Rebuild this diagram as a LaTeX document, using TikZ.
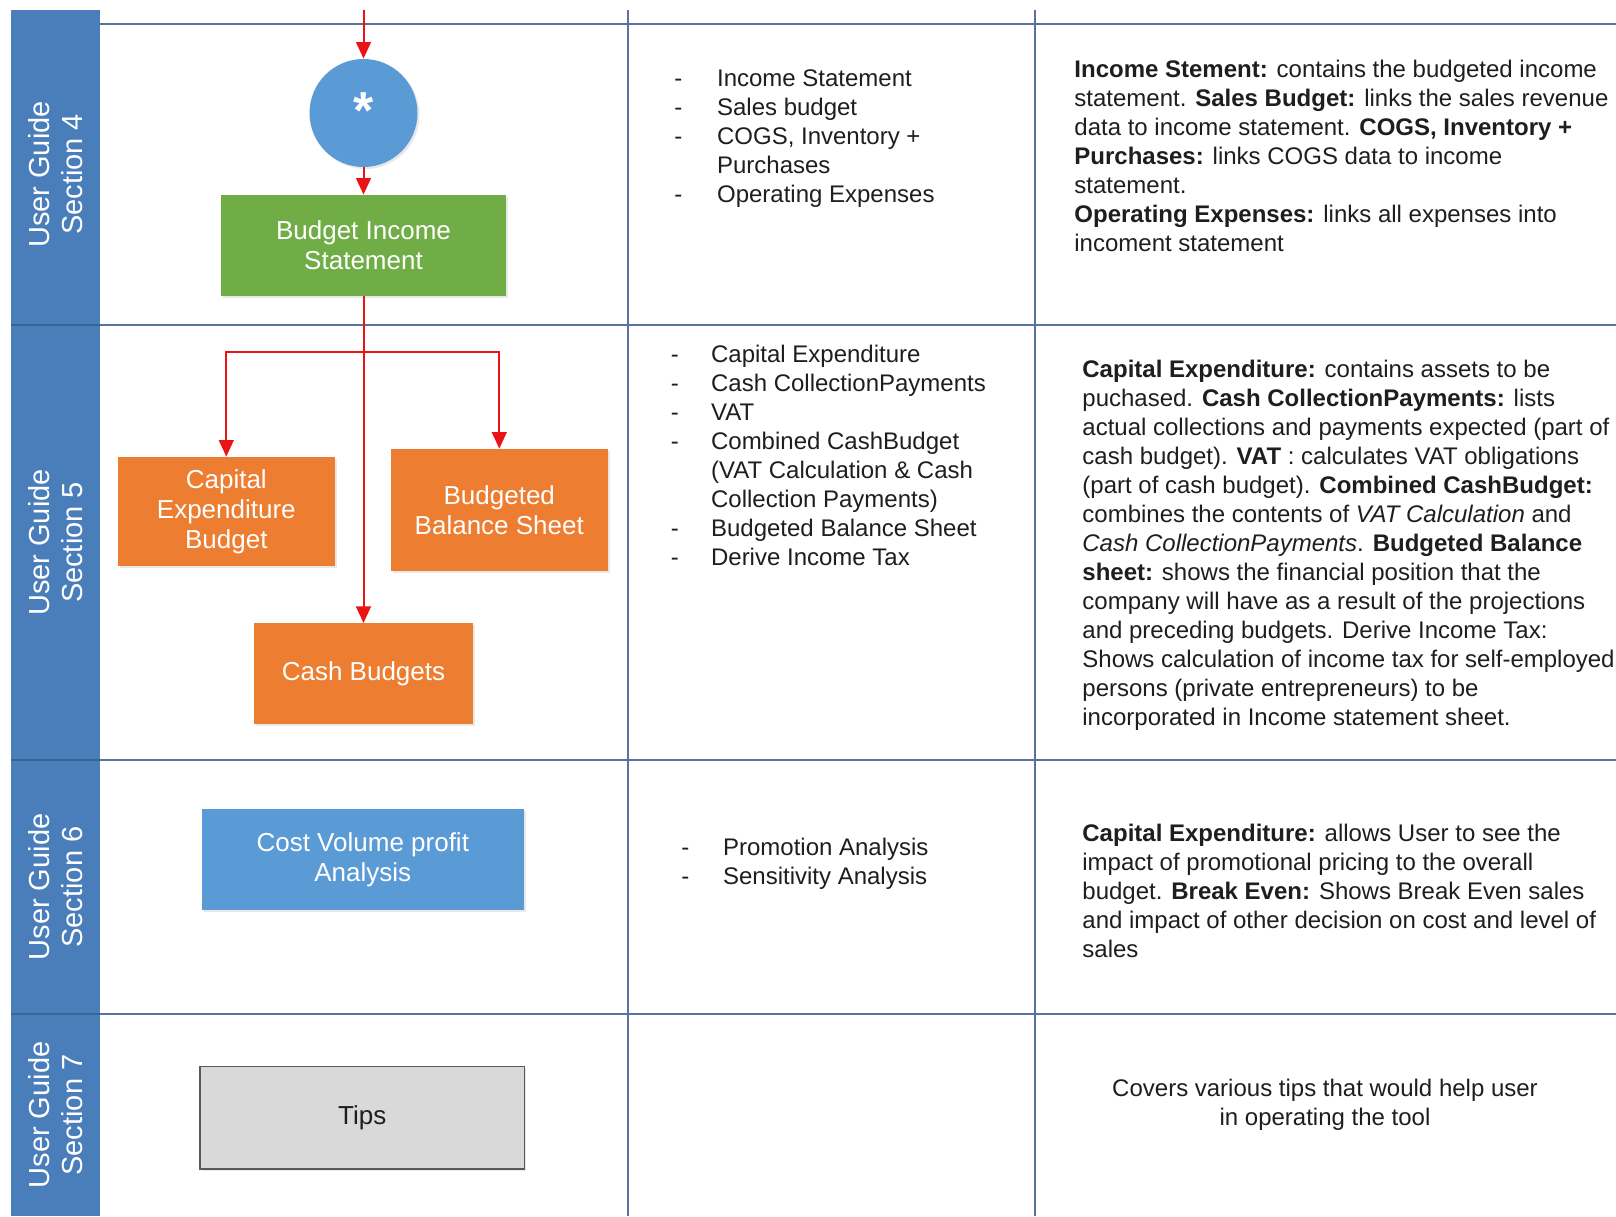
\documentclass[tikz,border=0pt]{standalone}
\usepackage{fontspec}
\setmainfont{Liberation Sans}
\usetikzlibrary{arrows.meta,shadows}
\definecolor{barc}{RGB}{74,126,187}
\definecolor{barline}{RGB}{58,100,150}
\definecolor{gridc}{RGB}{88,114,156}
\definecolor{circc}{RGB}{91,155,213}
\definecolor{greenc}{RGB}{112,173,71}
\definecolor{orangec}{RGB}{237,125,49}
\definecolor{grayc}{RGB}{217,217,217}
\definecolor{grayd}{RGB}{89,89,89}
\definecolor{txt}{RGB}{30,30,30}
\definecolor{arrc}{RGB}{235,20,20}
\newcommand{\dashit}[2]{\makebox[#1][l]{-}#2}
\begin{document}
\begin{tikzpicture}[x=0.5pt,y=-0.5pt,
  box/.style={rectangle, inner sep=0pt, align=center, text=white, font=\fontsize{13}{15}\selectfont,
    drop shadow={shadow xshift=1pt, shadow yshift=-1pt, opacity=0.18, fill=black!50}},
  arr/.style={draw=arrc, line width=1pt, -{Triangle[length=8.3pt,width=7.4pt]}},
  gridline/.style={draw=gridc, line width=0.8pt},
  lane/.style={rotate=90, text=white, align=center, inner sep=0pt, font=\fontsize{14.5}{16.5}\selectfont},
  body/.style={anchor=base west, inner sep=0pt, text=txt, font=\fontsize{12}{14.5}\selectfont},
  bodyc/.style={anchor=base, inner sep=0pt, text=txt, font=\fontsize{12}{14.5}\selectfont}]
\useasboundingbox (0,0) rectangle (1616,1216);
\fill[white] (0,0) rectangle (1616,1216);
% lane bar
\fill[barc] (11,10) rectangle (100,1216);
\foreach \yy in {325,760,1014} \draw[barline, line width=0.6pt] (11,\yy) -- (100,\yy);
% grid
\foreach \yy in {24,325,760,1014} \draw[gridline] (100,\yy) -- (1616,\yy);
\foreach \xx in {628,1035} \draw[gridline] (\xx,10) -- (\xx,1216);
% lane labels
\node[lane] (l4) at (55.5,174.5) {User Guide\\Section 4};
\node[lane] (l5) at (55.5,542.5) {User Guide\\Section 5};
\node[lane] (l6) at (55.5,887) {User Guide\\Section 6};
\node[lane] (l7) at (55.5,1115) {User Guide\\Section 7};
% flow nodes
\coordinate (topin) at (363.5,10);
\node[circle, fill=circc, minimum size=54pt, inner sep=0pt, text=white, font=\fontsize{26}{28}\bfseries\selectfont,
  drop shadow={shadow xshift=1pt, shadow yshift=-1pt, opacity=0.18, fill=black!50}] (star) at (363.5,113) {\raisebox{2pt}{*}};
\node[box, fill=greenc, minimum width=142.5pt, minimum height=50.5pt] (bis) at (363.5,245.5) {Budget Income\\Statement};
\node[box, fill=orangec, minimum width=108.75pt, minimum height=54.5pt] (cap) at (226.3,511.5) {Capital\\Expenditure\\Budget};
\node[box, fill=orangec, minimum width=108.7pt, minimum height=60.75pt] (bbs) at (499.3,509.8) {Budgeted\\Balance Sheet};
\node[box, fill=orangec, minimum width=109.4pt, minimum height=50.4pt] (cash) at (363.5,673.8) {Cash Budgets};
\node[box, fill=circc, minimum width=161.25pt, minimum height=50.75pt] (cvp) at (362.8,859.3) {Cost Volume profit\\Analysis};
\node[box, fill=grayc, draw=grayd, line width=0.8pt, text=txt, minimum width=162.2pt, minimum height=51.3pt] (tips) at (362.2,1117.7) {Tips};
% connectors
\coordinate (br) at (363.5,352);
\draw[arr] (topin) -- (star.north);
\draw[arr] (star.south) -- (bis.north);
\draw[arr] (bis.south) -- (cash.north);
\draw[arr] (br) -| (cap.north);
\draw[arr] (br) -| (bbs.north);
% column 2 lists
\node[body] (c2r4) at (674,86.7) {\begin{tabular}[t]{@{}l@{}}
\dashit{21.35pt}{Income Statement}\\
\dashit{21.35pt}{Sales budget}\\
\dashit{21.35pt}{COGS, Inventory +}\\
\hspace*{21.35pt}Purchases\\
\dashit{21.35pt}{Operating Expenses}
\end{tabular}};
\node[body] (c2r5) at (670.5,362.5) {\begin{tabular}[t]{@{}l@{}}
\dashit{20.1pt}{Capital Expenditure}\\
\dashit{20.1pt}{Cash CollectionPayments}\\
\dashit{20.1pt}{VAT}\\
\dashit{20.1pt}{Combined CashBudget}\\
\hspace*{20.1pt}(VAT Calculation \& Cash\\
\hspace*{20.1pt}Collection Payments)\\
\dashit{20.1pt}{Budgeted Balance Sheet}\\
\dashit{20.1pt}{Derive Income Tax}
\end{tabular}};
\node[body] (c2r6) at (681,855) {\begin{tabular}[t]{@{}l@{}}
\dashit{20.85pt}{Promotion Analysis}\\
\dashit{20.85pt}{Sensitivity Analysis}
\end{tabular}};
% column 3 descriptions
\node[body] (c3r4) at (1074,77) {\begin{tabular}[t]{@{}l@{}}
\textbf{Income Stement:} contains the budgeted income\\
statement. \textbf{Sales Budget:} links the sales revenue\\
data to income statement. \textbf{COGS, Inventory +}\\
\textbf{Purchases:} links COGS data to income\\
statement.\\
\textbf{Operating Expenses:} links all expenses into\\
incoment statement
\end{tabular}};
\node[body] (c3r5) at (1082,377) {\begin{tabular}[t]{@{}l@{}}
\textbf{Capital Expenditure:} contains assets to be\\
puchased. \textbf{Cash CollectionPayments:} lists\\
actual collections and payments expected (part of\\
cash budget). \textbf{VAT} : calculates VAT obligations\\
(part of cash budget). \textbf{Combined CashBudget:}\\
combines the contents of \textit{VAT Calculation} and\\
\textit{Cash CollectionPayments}. \textbf{Budgeted Balance}\\
\textbf{sheet:} shows the financial position that the\\
company will have as a result of the projections\\
and preceding budgets. Derive Income Tax:\\
Shows calculation of income tax for self-employed\\
persons (private entrepreneurs) to be\\
incorporated in Income statement sheet.
\end{tabular}};
\node[body] (c3r6) at (1082,841) {\begin{tabular}[t]{@{}l@{}}
\textbf{Capital Expenditure:} allows User to see the\\
impact of promotional pricing to the overall\\
budget. \textbf{Break Even:} Shows Break Even sales\\
and impact of other decision on cost and level of\\
sales
\end{tabular}};
\node[bodyc] (c3r7) at (1325,1096.6) {\begin{tabular}[t]{@{}c@{}}
Covers various tips that would help user\\
in operating the tool
\end{tabular}};
\end{tikzpicture}
\end{document}
